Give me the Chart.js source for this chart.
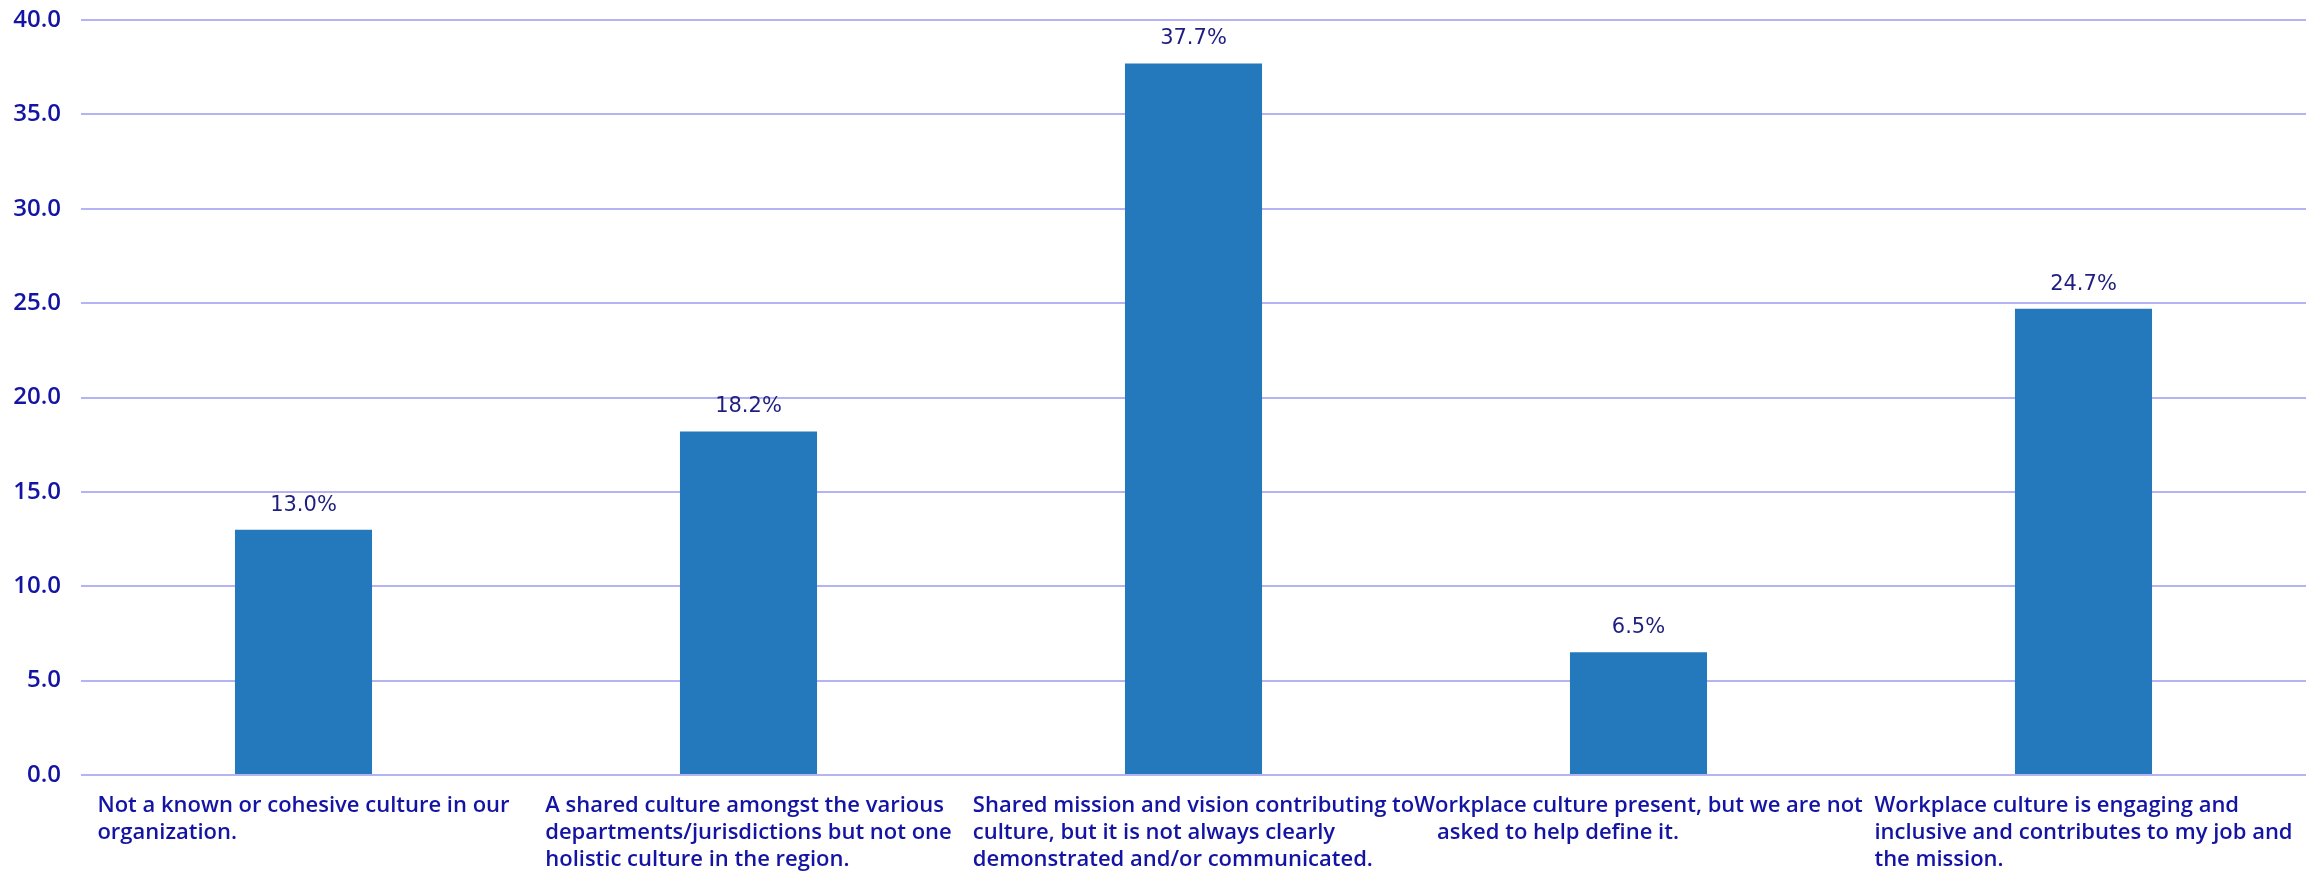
<!DOCTYPE html>
<html>
<head>
<meta charset="utf-8">
<script src="https://cdn.jsdelivr.net/npm/chart.js@4"></script>
<style>
  html, body { margin: 0; padding: 0; background: #fff; }
  .chart-wrap { width: 2315px; height: 871px; }
</style>
</head>
<body>
<div class="chart-wrap"><canvas id="cultureChart"></canvas></div>
<script>
// Survey responses: how the workplace culture is perceived (% of respondents)
const categories = [
  ['Not a known or cohesive culture in our', 'organization.'],
  ['A shared culture amongst the various', 'departments/jurisdictions but not one', 'holistic culture in the region.'],
  ['Shared mission and vision contributing to', 'culture, but it is not always clearly', 'demonstrated and/or communicated.'],
  ['Workplace culture present, but we are not', '    asked to help define it.'],
  ['Workplace culture is engaging and', 'inclusive and contributes to my job and', 'the mission.']
];
const percentages = [13.0, 18.2, 37.7, 6.5, 24.7];
const yTicks = [0, 5, 10, 15, 20, 25, 30, 35, 40];

const BAR_COLOR = '#2479bc';
const GRID_COLOR = '#b4b4f4';
const AXIS_TEXT = '#1414a4';
const VALUE_TEXT = '#1e1e80';

// Value labels above each bar
const valueLabels = {
  id: 'valueLabels',
  afterDatasetsDraw(chart) {
    const ctx = chart.ctx;
    const meta = chart.getDatasetMeta(0);
    ctx.save();
    ctx.font = '21px "DejaVu Sans"';
    ctx.fillStyle = VALUE_TEXT;
    ctx.textAlign = 'center';
    ctx.textBaseline = 'alphabetic';
    meta.data.forEach((bar, i) => {
      ctx.fillText(percentages[i].toFixed(1) + '%', bar.x, bar.y - 19);
    });
    ctx.restore();
  }
};

// Category labels: each block centred under its bar, lines left-aligned
const categoryLabels = {
  id: 'categoryLabels',
  afterDraw(chart) {
    const ctx = chart.ctx;
    const xScale = chart.scales.x;
    const top = chart.chartArea.bottom + 31;
    const lineHeight = 27;
    ctx.save();
    ctx.font = '600 22px "Open Sans"';
    ctx.fillStyle = AXIS_TEXT;
    ctx.textAlign = 'left';
    ctx.textBaseline = 'middle';
    categories.forEach((lines, i) => {
      const blockWidth = Math.max(...lines.map(l => ctx.measureText(l).width));
      const left = xScale.getPixelForValue(i) - blockWidth / 2;
      lines.forEach((line, j) => {
        ctx.fillText(line, left, top + j * lineHeight);
      });
    });
    ctx.restore();
  }
};

const ctx = document.getElementById('cultureChart').getContext('2d');
new Chart(ctx, {
  type: 'bar',
  data: {
    labels: categories.map((_, i) => i),
    datasets: [{
      data: percentages,
      backgroundColor: BAR_COLOR,
      borderWidth: 0,
      categoryPercentage: 1,
      barPercentage: 0.308
    }]
  },
  options: {
    responsive: true,
    maintainAspectRatio: false,
    animation: false,
    layout: {
      padding: { top: 20, left: 13, right: 9, bottom: 96 }
    },
    plugins: {
      legend: { display: false },
      tooltip: { enabled: false }
    },
    scales: {
      x: {
        display: false
      },
      y: {
        min: 0,
        max: 40,
        afterBuildTicks(scale) {
          scale.ticks = yTicks.map(v => ({ value: v }));
        },
        afterFit(scale) {
          scale.width = 68;
          scale.paddingTop = 0;
          scale.paddingBottom = 0;
        },
        border: { display: false },
        grid: {
          color: GRID_COLOR,
          lineWidth: 2,
          drawTicks: false
        },
        ticks: {
          padding: 20,
          color: AXIS_TEXT,
          font: { family: '"Open Sans"', size: 24, weight: '600' },
          callback: v => v.toFixed(1)
        }
      }
    }
  },
  plugins: [valueLabels, categoryLabels]
});
</script>
</body>
</html>
